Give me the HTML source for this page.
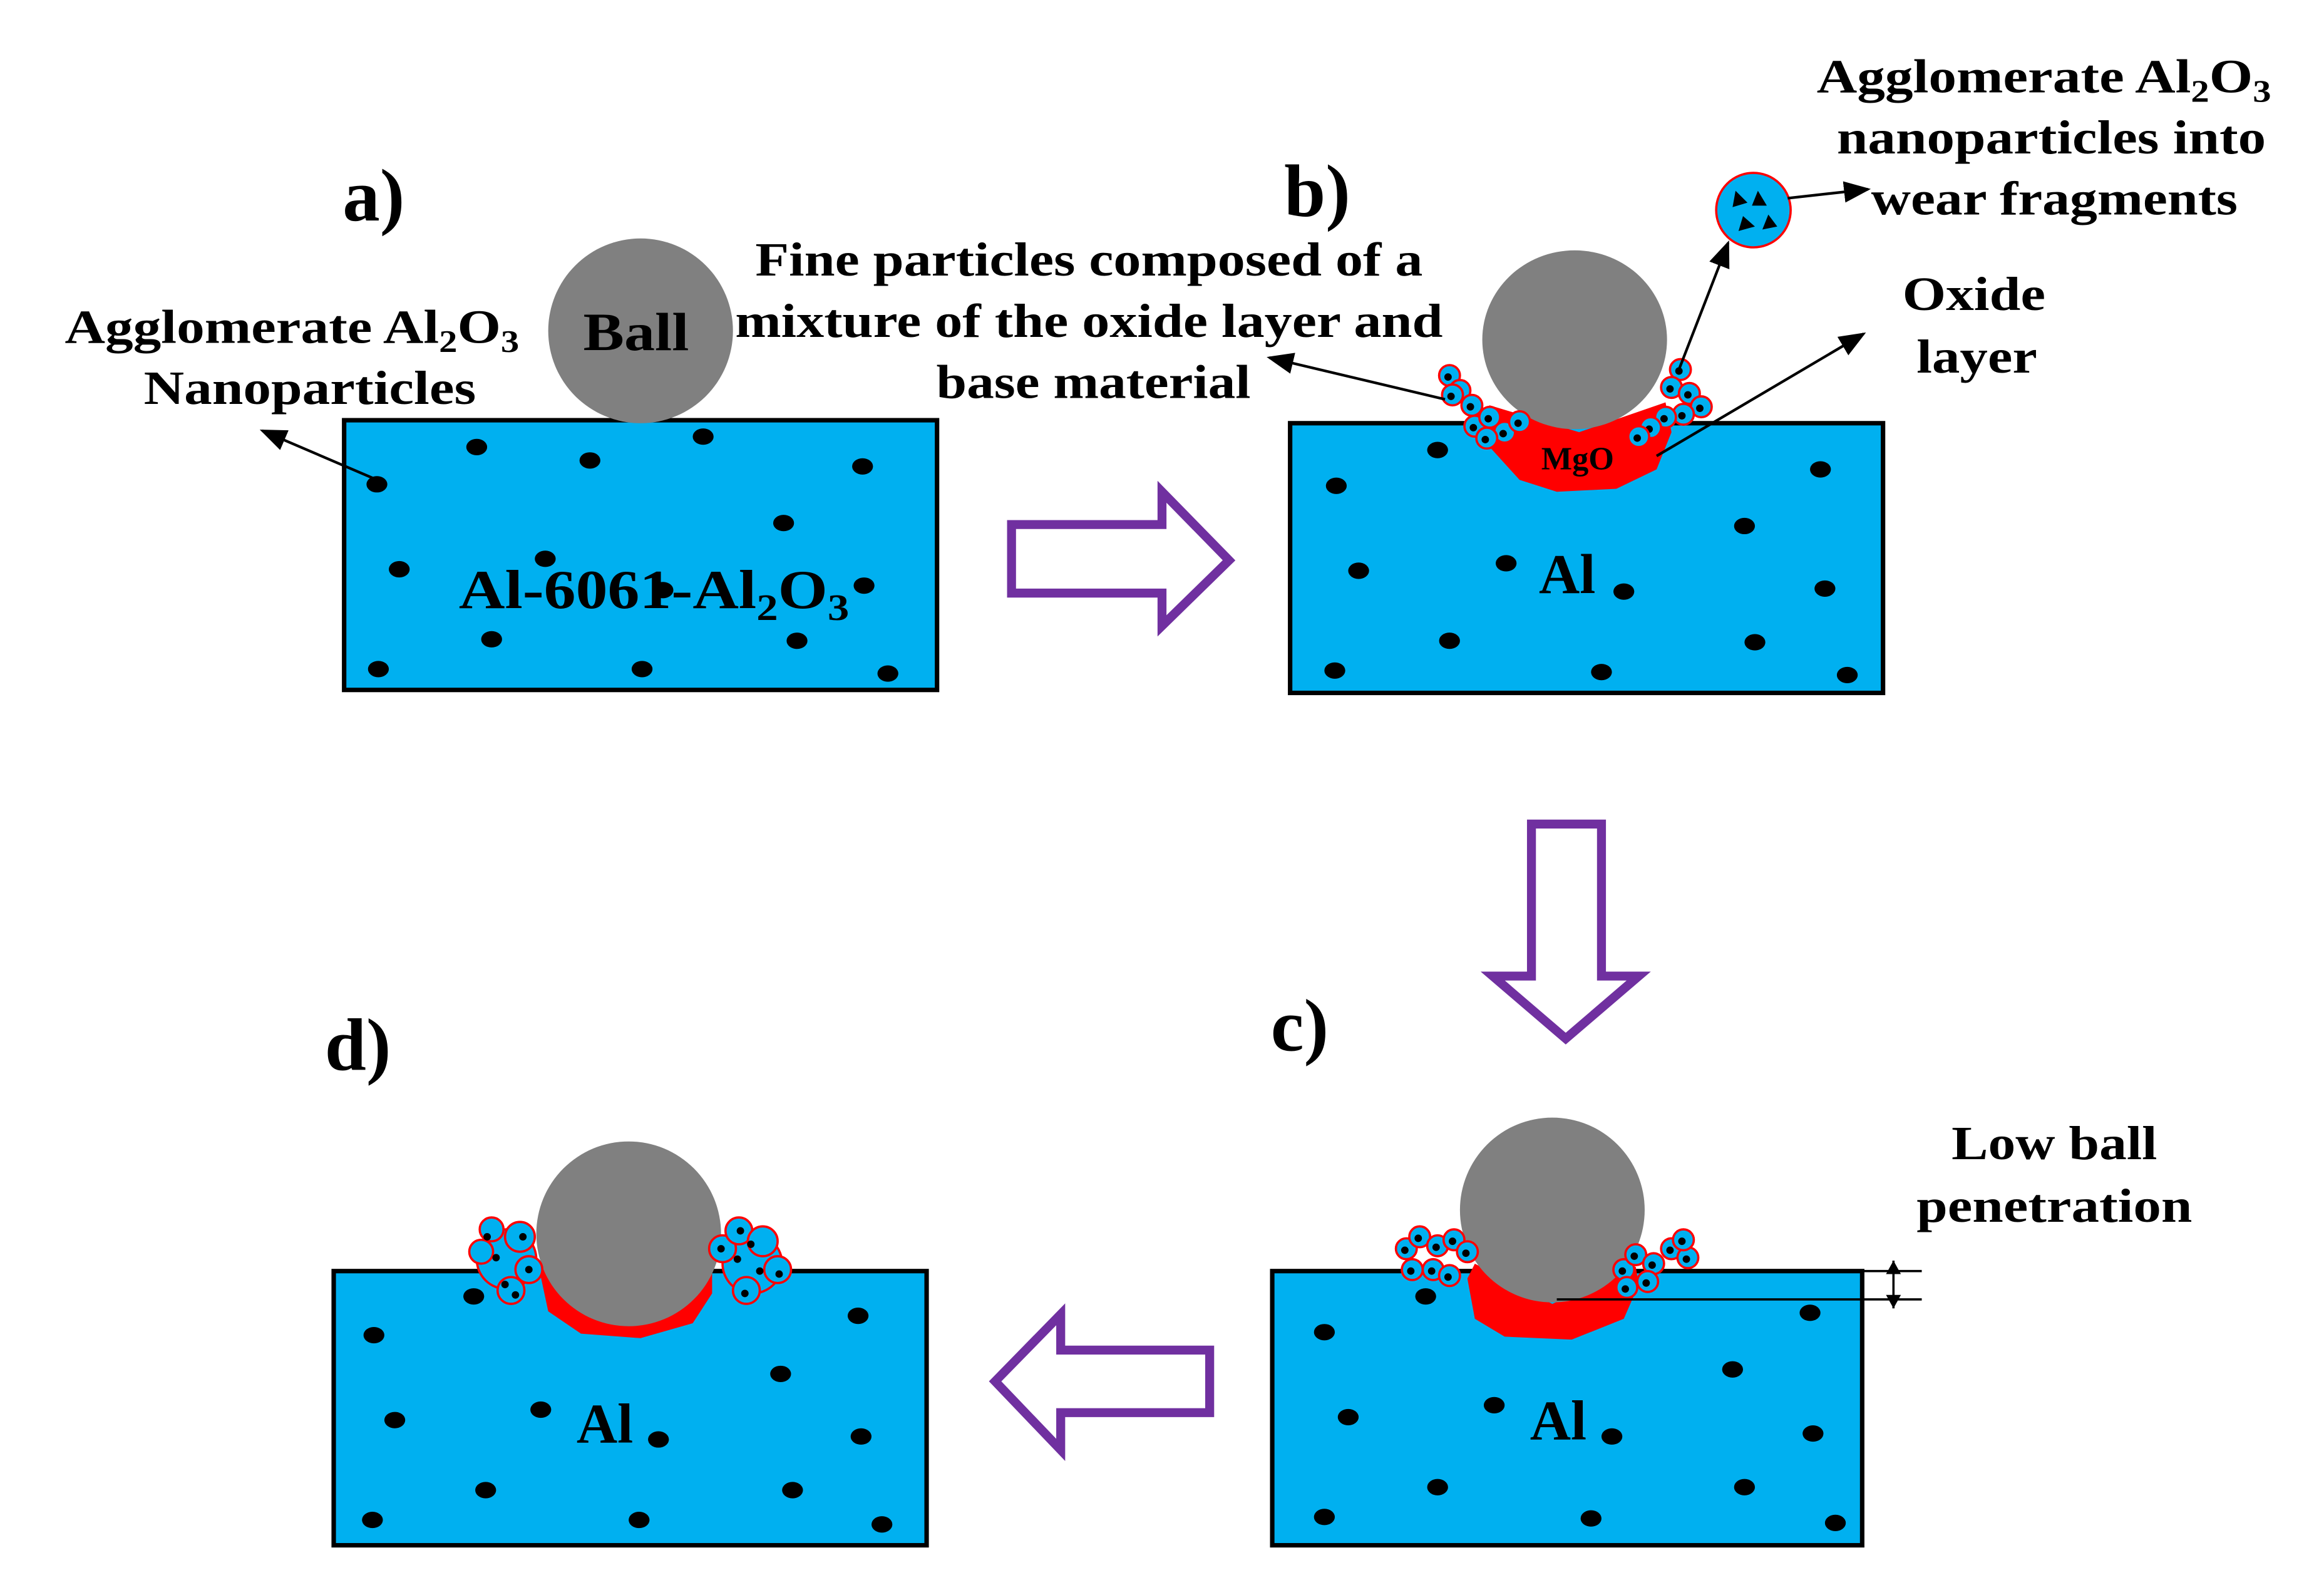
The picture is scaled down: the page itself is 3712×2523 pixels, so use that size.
<!DOCTYPE html>
<html><head><style>html,body{margin:0;padding:0;background:#fff}svg{display:block}
svg text{font-family:"Liberation Serif",serif;font-weight:bold}</style></head>
<body>
<svg width="3712" height="2523" viewBox="0 0 1560 1060.3" xmlns="http://www.w3.org/2000/svg">
<defs>
<marker id="a2" viewBox="0 0 10 10" markerWidth="18" markerHeight="18" refX="9" refY="5" orient="auto" markerUnits="userSpaceOnUse"><path d="M0,1 L10,5 L0,9z"/></marker>
<g id="cl">
<circle cx="0" cy="0" r="7" fill="#00B0F0" stroke="#f00" stroke-width="1.5"/><circle cx="-1" cy="1" r="2.5"/>
</g>
</defs>
<rect width="1560" height="1060.3" fill="#fff"/>

<g fill="#00B0F0" stroke="#000" stroke-width="3">
<rect x="231" y="282" width="398" height="181"/>
<rect x="866" y="284" width="398" height="181"/>
<rect x="854" y="853" width="396" height="184"/>
<rect x="224" y="853" width="398" height="184"/>
</g>

<g fill="#000">
<ellipse cx="253" cy="325" rx="7" ry="5.5"/><ellipse cx="320" cy="300" rx="7" ry="5.5"/><ellipse cx="396" cy="309" rx="7" ry="5.5"/><ellipse cx="472" cy="293" rx="7" ry="5.5"/><ellipse cx="579" cy="313" rx="7" ry="5.5"/><ellipse cx="526" cy="351" rx="7" ry="5.5"/><ellipse cx="268" cy="382" rx="7" ry="5.5"/><ellipse cx="366" cy="375" rx="7" ry="5.5"/><ellipse cx="445" cy="396" rx="7" ry="5.5"/><ellipse cx="580" cy="393" rx="7" ry="5.5"/><ellipse cx="330" cy="429" rx="7" ry="5.5"/><ellipse cx="535" cy="430" rx="7" ry="5.5"/><ellipse cx="254" cy="449" rx="7" ry="5.5"/><ellipse cx="431" cy="449" rx="7" ry="5.5"/><ellipse cx="596" cy="452" rx="7" ry="5.5"/>
<ellipse cx="897" cy="326" rx="7" ry="5.5"/><ellipse cx="965" cy="302" rx="7" ry="5.5"/><ellipse cx="1222" cy="315" rx="7" ry="5.5"/><ellipse cx="1171" cy="353" rx="7" ry="5.5"/><ellipse cx="912" cy="383" rx="7" ry="5.5"/><ellipse cx="1011" cy="378" rx="7" ry="5.5"/><ellipse cx="1090" cy="397" rx="7" ry="5.5"/><ellipse cx="1225" cy="395" rx="7" ry="5.5"/><ellipse cx="973" cy="430" rx="7" ry="5.5"/><ellipse cx="1178" cy="431" rx="7" ry="5.5"/><ellipse cx="896" cy="450" rx="7" ry="5.5"/><ellipse cx="1075" cy="451" rx="7" ry="5.5"/><ellipse cx="1240" cy="453" rx="7" ry="5.5"/>
<ellipse cx="889" cy="894" rx="7" ry="5.5"/><ellipse cx="957" cy="870" rx="7" ry="5.5"/><ellipse cx="1215" cy="881" rx="7" ry="5.5"/><ellipse cx="1163" cy="919" rx="7" ry="5.5"/><ellipse cx="905" cy="951" rx="7" ry="5.5"/><ellipse cx="1003" cy="943" rx="7" ry="5.5"/><ellipse cx="1082" cy="964" rx="7" ry="5.5"/><ellipse cx="1217" cy="962" rx="7" ry="5.5"/><ellipse cx="965" cy="998" rx="7" ry="5.5"/><ellipse cx="1171" cy="998" rx="7" ry="5.5"/><ellipse cx="889" cy="1018" rx="7" ry="5.5"/><ellipse cx="1068" cy="1019" rx="7" ry="5.5"/><ellipse cx="1232" cy="1022" rx="7" ry="5.5"/>
<ellipse cx="251" cy="896" rx="7" ry="5.5"/><ellipse cx="318" cy="870" rx="7" ry="5.5"/><ellipse cx="576" cy="883" rx="7" ry="5.5"/><ellipse cx="524" cy="922" rx="7" ry="5.5"/><ellipse cx="265" cy="953" rx="7" ry="5.5"/><ellipse cx="363" cy="946" rx="7" ry="5.5"/><ellipse cx="442" cy="966" rx="7" ry="5.5"/><ellipse cx="578" cy="964" rx="7" ry="5.5"/><ellipse cx="326" cy="1000" rx="7" ry="5.5"/><ellipse cx="532" cy="1000" rx="7" ry="5.5"/><ellipse cx="250" cy="1020" rx="7" ry="5.5"/><ellipse cx="429" cy="1020" rx="7" ry="5.5"/><ellipse cx="592" cy="1023" rx="7" ry="5.5"/>
</g>

<path d="M985,280 L1000,300 L1020,322 L1045,330 L1085,328 L1112,315 L1122,290 L1118,270 L1060,290 L1000,272z" fill="#f00"/>
<path d="M985,858 L990,885 L1010,897 L1055,899 L1090,885 L1100,862 L1098,850 L1042,875 L990,848z" fill="#f00"/>
<path d="M362,852 L368,880 L390,895 L430,898 L465,888 L478,868 L478,850 L422,880 L365,845z" fill="#f00"/>

<ellipse cx="430" cy="222" rx="62" ry="62" fill="#808080"/>
<ellipse cx="1057" cy="228" rx="62" ry="60" fill="#808080"/>
<ellipse cx="1042" cy="812" rx="62" ry="62" fill="#808080"/>
<ellipse cx="422" cy="828" rx="62" ry="62" fill="#808080"/>

<use href="#cl" x="973" y="252"/><use href="#cl" x="980" y="262"/><use href="#cl" x="988" y="272"/><use href="#cl" x="990" y="286"/><use href="#cl" x="1000" y="280"/><use href="#cl" x="1010" y="290"/><use href="#cl" x="998" y="294"/><use href="#cl" x="1020" y="283"/><use href="#cl" x="975" y="265"/>
<use href="#cl" x="1128" y="248"/><use href="#cl" x="1122" y="260"/><use href="#cl" x="1134" y="264"/><use href="#cl" x="1142" y="273"/><use href="#cl" x="1130" y="278"/><use href="#cl" x="1118" y="280"/><use href="#cl" x="1108" y="287"/><use href="#cl" x="1100" y="293"/>
<use href="#cl" x="944" y="838"/><use href="#cl" x="953" y="830"/><use href="#cl" x="965" y="836"/><use href="#cl" x="976" y="832"/><use href="#cl" x="985" y="840"/><use href="#cl" x="948" y="852"/><use href="#cl" x="962" y="852"/><use href="#cl" x="973" y="856"/>
<use href="#cl" x="1090" y="852"/><use href="#cl" x="1098" y="842"/><use href="#cl" x="1110" y="848"/><use href="#cl" x="1122" y="838"/><use href="#cl" x="1133" y="844"/><use href="#cl" x="1130" y="832"/><use href="#cl" x="1106" y="860"/><use href="#cl" x="1092" y="864"/>
<g stroke="#f00" stroke-width="1.5" fill="#00B0F0">
<circle cx="340" cy="845" r="20"/><circle cx="330" cy="825" r="8"/><circle cx="349" cy="830" r="10"/><circle cx="323" cy="840" r="8"/><circle cx="355" cy="852" r="9"/><circle cx="343" cy="866" r="9"/>
<circle cx="505" cy="848" r="20"/><circle cx="485" cy="838" r="9"/><circle cx="496" cy="826" r="9"/><circle cx="512" cy="833" r="10"/><circle cx="522" cy="852" r="9"/><circle cx="501" cy="866" r="9"/>
</g>
<g fill="#000"><circle cx="333" cy="844" r="2.5"/><circle cx="339" cy="862" r="2.5"/><circle cx="351" cy="830" r="2.5"/><circle cx="355" cy="852" r="2.5"/><circle cx="327" cy="830" r="2.5"/><circle cx="346" cy="869" r="2.5"/>
<circle cx="495" cy="845" r="2.5"/><circle cx="504" cy="835" r="2.5"/><circle cx="510" cy="853" r="2.5"/><circle cx="500" cy="868" r="2.5"/><circle cx="497" cy="826" r="2.5"/><circle cx="484" cy="838" r="2.5"/><circle cx="523" cy="855" r="2.5"/></g>

<circle cx="1177" cy="141" r="25" fill="#00B0F0" stroke="#f00" stroke-width="1.5"/>
<g fill="#000"><path d="M1165,128 l8,8 l-10,3z"/><path d="M1180,128 l6,10 l-10,0z"/><path d="M1170,145 l8,7 l-11,3z"/><path d="M1187,144 l6,8 l-10,2z"/></g>

<g stroke="#000" stroke-width="1.8" fill="none" marker-end="url(#a2)">
<line x1="253" y1="322" x2="176" y2="289"/>
<line x1="970" y1="268" x2="852" y2="240"/>
<line x1="1127" y1="248" x2="1160" y2="163"/>
<line x1="1200" y1="133" x2="1254" y2="127"/>
<line x1="1112" y1="306" x2="1251" y2="224"/>
</g>

<g stroke="#000" stroke-width="1.5">
<line x1="1250" y1="853" x2="1290" y2="853"/>
<line x1="1045" y1="872" x2="1290" y2="872"/>
<line x1="1271" y1="846" x2="1271" y2="878"/>
</g>
<path d="M1271,846 l-5,9 h10z M1271,878 l-5,-9 h10z" fill="#000"/>

<g fill="#fff" stroke="#7030A0" stroke-width="6" stroke-linejoin="miter">
<path d="M679,352 H780 V330 L825,376 L780,420 V398 H679z"/>
<path d="M1028,553 H1075 V655 H1100 L1051,697 L1002,655 H1028z"/>
<path d="M812,906 H712 V882 L668,927 L712,973 V948 H812z"/>
</g>

<g fill="#000" font-size="32" text-anchor="middle">
<text x="230" y="148" font-size="50" text-anchor="start">a)</text>
<text x="862" y="145" font-size="50" text-anchor="start">b)</text>
<text x="853" y="705" font-size="50" text-anchor="start">c)</text>
<text x="218" y="718" font-size="50" text-anchor="start">d)</text>
<text x="196" y="230" textLength="305" lengthAdjust="spacingAndGlyphs">Agglomerate Al<tspan font-size="21" dy="6">2</tspan><tspan dy="-6">O</tspan><tspan font-size="21" dy="6">3</tspan></text>
<text x="208" y="271" textLength="223" lengthAdjust="spacingAndGlyphs">Nanoparticles</text>
<text x="427" y="235" font-size="36" textLength="71" lengthAdjust="spacingAndGlyphs">Ball</text>
<text x="439" y="408" font-size="37" textLength="262" lengthAdjust="spacingAndGlyphs">Al-6061-Al<tspan font-size="25" dy="8">2</tspan><tspan dy="-8">O</tspan><tspan font-size="25" dy="8">3</tspan></text>
<text x="731" y="185" textLength="448" lengthAdjust="spacingAndGlyphs">Fine particles composed of a</text>
<text x="731" y="226" textLength="475" lengthAdjust="spacingAndGlyphs">mixture of the oxide layer and</text>
<text x="734" y="267" textLength="211" lengthAdjust="spacingAndGlyphs">base material</text>
<text x="1372" y="62" textLength="305" lengthAdjust="spacingAndGlyphs">Agglomerate Al<tspan font-size="21" dy="6">2</tspan><tspan dy="-6">O</tspan><tspan font-size="21" dy="6">3</tspan></text>
<text x="1377" y="103" textLength="288" lengthAdjust="spacingAndGlyphs">nanoparticles into</text>
<text x="1379" y="144" textLength="246" lengthAdjust="spacingAndGlyphs">wear fragments</text>
<text x="1325" y="208" textLength="96" lengthAdjust="spacingAndGlyphs">Oxide</text>
<text x="1327" y="250" textLength="81" lengthAdjust="spacingAndGlyphs">layer</text>
<text x="1059" y="315" font-size="22">MgO</text>
<text x="1052" y="398" font-size="38">Al</text>
<text x="1046" y="966" font-size="38">Al</text>
<text x="406" y="968" font-size="38">Al</text>
<text x="1379" y="778" textLength="138" lengthAdjust="spacingAndGlyphs">Low ball</text>
<text x="1379" y="820" textLength="185" lengthAdjust="spacingAndGlyphs">penetration</text>
</g>
</svg>
</body></html>
